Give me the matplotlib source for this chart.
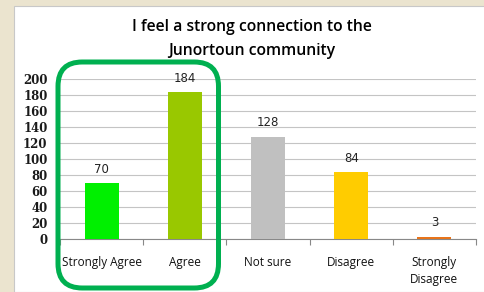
import matplotlib.pyplot as plt
from matplotlib.patches import FancyBboxPatch, Rectangle

# Survey responses
categories = ['Strongly Agree', 'Agree', 'Not sure', 'Disagree', 'Strongly\nDisagree']
counts = [70, 184, 128, 84, 3]
colors = ['#00f000', '#99c800', '#c0c0c0', '#ffcc00', '#e8741a']
yticks = list(range(0, 201, 20))

W, H = 485, 292
fig = plt.figure(figsize=(W / 100, H / 100), dpi=100)
fig.patch.set_facecolor('#ebe4cf')

# White chart panel on beige background
panel = Rectangle((14 / W, 0), 1 - 14 / W, 1 - 6 / H, transform=fig.transFigure,
                  facecolor='white', edgecolor='#c8c8c8', linewidth=0.8, zorder=-5)
fig.patches.append(panel)

ax = fig.add_axes([60 / W, 1 - 239 / H, (476 - 60) / W, (239 - 79) / H])
ax.set_facecolor('none')
x = range(len(categories))
ax.bar(x, counts, width=0.41, color=colors, zorder=3)
for xi, v in zip(x, counts):
    ax.text(xi, v + 17, str(v), ha='center', va='center', fontsize=8.5,
            family='DejaVu Sans', color='#222222')

ax.set_xlim(-0.5, len(categories) - 0.5)
ax.set_ylim(0, 200)
ax.set_yticks(yticks)
ax.set_yticklabels([str(t) for t in yticks], fontsize=8.5, family='DejaVu Serif',
                   fontweight='bold', color='#1a1a1a')
ax.yaxis.grid(True, color='#c4c4c4', linewidth=0.8, zorder=0)
ax.tick_params(axis='y', length=0, pad=9)
ax.set_xticks([i + 0.5 for i in range(-1, len(categories))], minor=False)
ax.set_xticklabels([])
ax.tick_params(axis='x', length=4, color='#888888', direction='out')
for xi, lab in zip(x, categories):
    ax.text(xi, -21, lab, ha='center', va='top', fontsize=8.5, family='Open Sans',
            color='#111111', linespacing=1.45)
for s in ['top', 'right', 'left']:
    ax.spines[s].set_visible(False)
ax.spines['bottom'].set_color('#888888')

fig.text(252 / W, 1 - 27 / H, 'I feel a strong connection to the', ha='center',
         va='center', fontsize=11.3, family='Open Sans', fontweight='semibold')
fig.text(252 / W, 1 - 51 / H, 'Junortoun community', ha='center',
         va='center', fontsize=11.3, family='Open Sans', fontweight='semibold')

# Highlight box around the agree categories
box = FancyBboxPatch((58 / W, 1 - 288 / H), (218.5 - 58) / W, (288 - 62) / H,
                     boxstyle='round,pad=0,rounding_size=0.05',
                     transform=fig.transFigure, facecolor='none',
                     edgecolor='#00b050', linewidth=3.6, zorder=10,
                     mutation_aspect=W / H)
fig.patches.append(box)

fig.savefig('out.png', dpi=100, facecolor=fig.get_facecolor())
